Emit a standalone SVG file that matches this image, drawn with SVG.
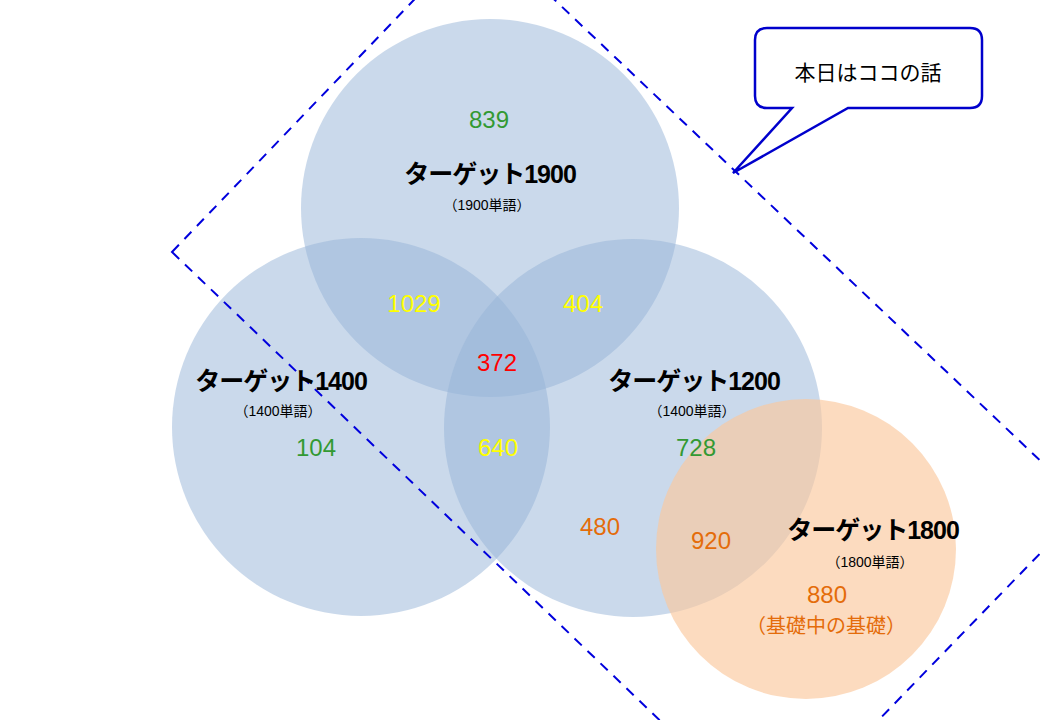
<svg xmlns="http://www.w3.org/2000/svg" width="1040" height="720" viewBox="0 0 1040 720">
<style>
.c{fill:#95b3d7;fill-opacity:0.5}
.o{fill:#fbc79c;fill-opacity:0.65}
text{font-family:"Liberation Sans","Noto Sans CJK JP",sans-serif;text-anchor:middle}
.t{font-size:25px;font-weight:bold;fill:#000;letter-spacing:-1px}
.s{font-size:14px;fill:#000}
.n{font-size:24px}
.g{fill:#339933}.y{fill:#ffff00}.r{fill:#ff0000}.or{fill:#e46c0a}
</style>
<rect width="1040" height="720" fill="#fff"/>
<g id="circles">
<circle id="c1900" class="c" cx="490" cy="208" r="189"/>
<circle id="c1400" class="c" cx="361" cy="427" r="189"/>
<circle id="c1200" class="c" cx="633" cy="428" r="189"/>
<circle id="c1800" class="o" cx="806" cy="549" r="150"/>
</g>
<g id="connectors">
<polygon points="172,252 481,-70 1087,505 773,829" fill="none" stroke="#0000dd" stroke-width="2" stroke-dasharray="10,8"/>
</g>
<g id="callout">
<path d="M767,28 H970 Q982,28 982,40 V96 Q982,108 970,108 H848 L733,173 L792,108 H767 Q755,108 755,96 V40 Q755,28 767,28 Z" fill="#fff" stroke="#0000cc" stroke-width="2.5"/>
<text x="868" y="80" style="font-size:21px;fill:#000">本日はココの話</text>
</g>
<g id="labels">
<text class="n g" x="489" y="128">839</text>
<text class="t" x="490" y="183">ターゲット1900</text>
<text class="s" x="487" y="210">（1900単語）</text>
<text class="n y" x="414" y="312">1029</text>
<text class="n y" x="583" y="312">404</text>
<text class="n r" x="497" y="371">372</text>
<text class="t" x="281" y="390">ターゲット1400</text>
<text class="s" x="278" y="416">（1400単語）</text>
<text class="n g" x="316" y="456">104</text>
<text class="n y" x="498" y="456">640</text>
<text class="t" x="694" y="390">ターゲット1200</text>
<text class="s" x="692" y="416">（1400単語）</text>
<text class="n g" x="696" y="456">728</text>
<text class="n or" x="600" y="535">480</text>
<text class="n or" x="711" y="549">920</text>
<text class="t" x="873" y="539">ターゲット1800</text>
<text class="s" x="870" y="567">（1800単語）</text>
<text class="n or" x="827" y="603">880</text>
<text class="or" x="826" y="633" style="font-size:20px">（基礎中の基礎）</text>
</g>
</svg>
